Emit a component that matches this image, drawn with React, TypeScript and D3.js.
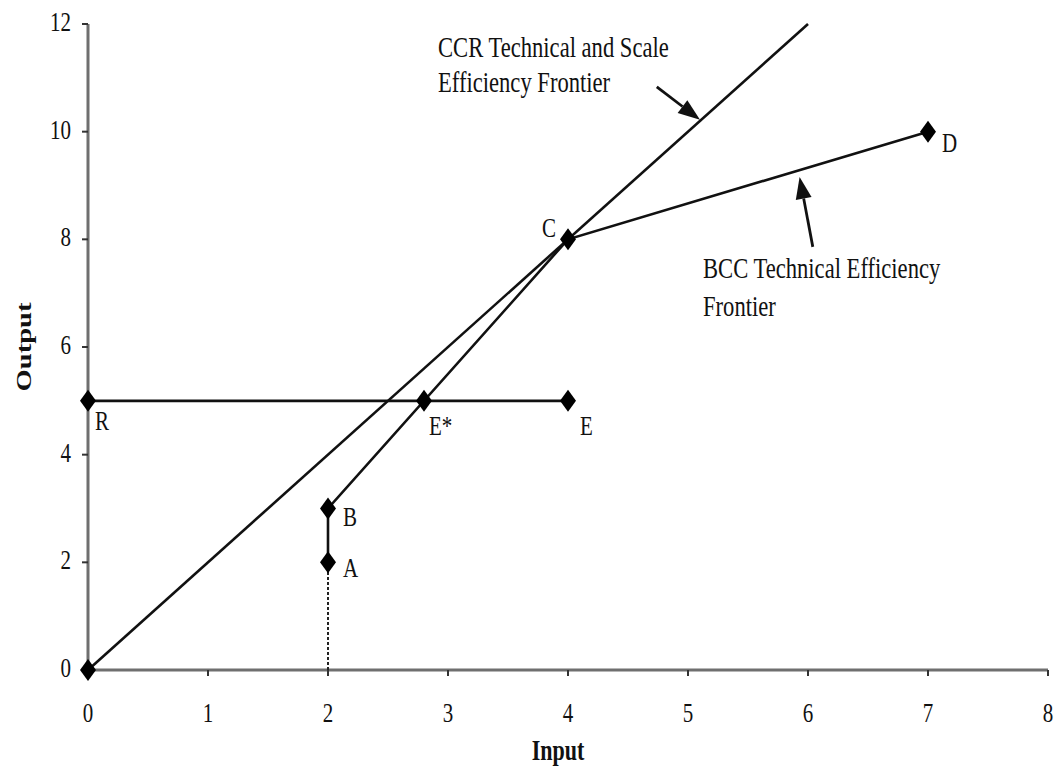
import React, { useEffect, useRef } from "react";
import * as d3 from "d3";

const WIDTH = 1057;
const HEIGHT = 771;
const MARGIN = { top: 24, right: 9, bottom: 101, left: 88 };
const FONT = "'Liberation Serif', 'Times New Roman', serif";
const STRETCH = 1.3; // the source picture is stretched vertically

// Data (input, output)
const xTicks = [0, 1, 2, 3, 4, 5, 6, 7, 8];
const yTicks = [0, 2, 4, 6, 8, 10, 12];

const pointNames = ["O", "R", "A", "B", "E*", "E", "C", "D"];
const pointInput = [0, 0, 2, 2, 2.8, 4, 4, 7];
const pointOutput = [0, 5, 2, 3, 5, 5, 8, 10];

// CCR frontier: ray from origin through C up to the top of the chart
const ccrInput = [0, 6];
const ccrOutput = [0, 12];

// BCC frontier passes A -> B -> C -> D
const bccPath = ["A", "B", "C", "D"];
// horizontal reference R -> E* -> E
const refPath = ["R", "E"];

const ccrLabel = ["CCR Technical and Scale", "Efficiency Frontier"];
const bccLabel = ["BCC Technical Efficiency", "Frontier"];

export default function App() {
  const svgRef = useRef<SVGSVGElement>(null);

  useEffect(() => {
    const svg = d3.select(svgRef.current);
    svg.selectAll("*").remove();

    const x = d3
      .scaleLinear()
      .domain([0, 8])
      .range([MARGIN.left, WIDTH - MARGIN.right]);
    const y = d3
      .scaleLinear()
      .domain([0, 12])
      .range([HEIGHT - MARGIN.bottom, MARGIN.top]);

    const pts = pointNames.map((n, i) => ({ name: n, x: pointInput[i], y: pointOutput[i] }));
    const byName = (n: string) => pts.find((p) => p.name === n)!;

    const text = (
      px: number,
      py: number,
      str: string,
      opts: { size?: number; anchor?: string; weight?: string; rotate?: boolean } = {}
    ) => {
      const t = svg
        .append("text")
        .attr(
          "transform",
          opts.rotate
            ? `translate(${px},${py}) rotate(-90) scale(${STRETCH},1)`
            : `translate(${px},${py}) scale(1,${STRETCH})`
        )
        .attr("font-family", FONT)
        .attr("font-size", opts.size || 22)
        .attr("font-weight", opts.weight || "normal")
        .attr("text-anchor", opts.anchor || "start")
        .attr("fill", "#111")
        .text(str);
      return t;
    };

    // Axes
    const axisColor = "#6f6f6f";
    svg
      .append("line")
      .attr("x1", x(0))
      .attr("x2", x(0))
      .attr("y1", y(12))
      .attr("y2", y(0))
      .attr("stroke", axisColor)
      .attr("stroke-width", 3);
    svg
      .append("line")
      .attr("x1", x(0))
      .attr("x2", x(8))
      .attr("y1", y(0))
      .attr("y2", y(0))
      .attr("stroke", axisColor)
      .attr("stroke-width", 3);

    yTicks.forEach((v) => {
      svg
        .append("line")
        .attr("x1", x(0) - 6)
        .attr("x2", x(0))
        .attr("y1", y(v))
        .attr("y2", y(v))
        .attr("stroke", "#333")
        .attr("stroke-width", 2);
      text(x(0) - 17, y(v) + 7, String(v), { size: 21, anchor: "end" });
    });
    xTicks.forEach((v) => {
      svg
        .append("line")
        .attr("x1", x(v))
        .attr("x2", x(v))
        .attr("y1", y(0))
        .attr("y2", y(0) + 6)
        .attr("stroke", "#333")
        .attr("stroke-width", 2);
      text(x(v), y(0) + 52, String(v), { size: 21, anchor: "middle" });
    });

    text(558, 760, "Input", { size: 22, anchor: "middle", weight: "bold" });
    text(31, 347, "Output", { size: 22, anchor: "middle", weight: "bold", rotate: true });

    const line = d3
      .line<{ x: number; y: number }>()
      .x((d) => x(d.x))
      .y((d) => y(d.y));

    // dotted drop from A to the input axis
    const a = byName("A");
    svg
      .append("path")
      .datum([{ x: a.x, y: 0 }, a])
      .attr("d", line)
      .attr("fill", "none")
      .attr("stroke", "#222")
      .attr("stroke-width", 2)
      .attr("stroke-dasharray", "3,2");

    // CCR frontier
    svg
      .append("path")
      .datum(ccrInput.map((v, i) => ({ x: v, y: ccrOutput[i] })))
      .attr("d", line)
      .attr("fill", "none")
      .attr("stroke", "#111")
      .attr("stroke-width", 2.6);

    // BCC frontier
    svg
      .append("path")
      .datum(bccPath.map(byName))
      .attr("d", line)
      .attr("fill", "none")
      .attr("stroke", "#111")
      .attr("stroke-width", 2.6);

    // R - E line
    svg
      .append("path")
      .datum(refPath.map(byName))
      .attr("d", line)
      .attr("fill", "none")
      .attr("stroke", "#111")
      .attr("stroke-width", 2.6);

    // arrows (in data units)
    const arrow = (x1: number, y1: number, x2: number, y2: number) => {
      const X1 = x(x1), Y1 = y(y1), X2 = x(x2), Y2 = y(y2);
      const ang = Math.atan2(Y2 - Y1, X2 - X1);
      const len = 22, half = 8;
      const bx = X2 - len * Math.cos(ang), by = Y2 - len * Math.sin(ang);
      svg
        .append("line")
        .attr("x1", X1)
        .attr("y1", Y1)
        .attr("x2", bx)
        .attr("y2", by)
        .attr("stroke", "#111")
        .attr("stroke-width", 2.8);
      const px = -Math.sin(ang), py = Math.cos(ang);
      svg
        .append("path")
        .attr(
          "d",
          `M${X2},${Y2}L${bx + half * px},${by + half * py}L${bx - half * px},${by - half * py}Z`
        )
        .attr("fill", "#111");
    };
    arrow(4.74, 10.83, 5.1, 10.22);
    arrow(6.04, 7.86, 5.93, 9.16);

    // markers
    svg
      .selectAll("path.pt")
      .data(pts)
      .join("path")
      .attr("class", "pt")
      .attr("transform", (d) => `translate(${x(d.x)},${y(d.y)})`)
      .attr("d", "M0,-11L8,0L0,11L-8,0Z")
      .attr("fill", "#000");

    // point labels
    const labelOffset: Record<string, [number, number, string]> = {
      R: [7, 29, "start"],
      A: [15, 15, "start"],
      B: [15, 17, "start"],
      "E*": [5, 34, "start"],
      E: [12, 34, "start"],
      C: [-12, -2, "end"],
      D: [14, 20, "start"],
    };
    pts.forEach((p) => {
      const o = labelOffset[p.name];
      if (!o) return;
      text(x(p.x) + o[0], y(p.y) + o[1], p.name, { size: 21, anchor: o[2] });
    });

    // frontier captions
    ccrLabel.forEach((s, i) => text(438, 57 + i * 35, s, { size: 22.6 }));
    bccLabel.forEach((s, i) => text(703, 278 + i * 38, s, { size: 22.6 }));
  }, []);

  return (
    <svg
      ref={svgRef}
      width={WIDTH}
      height={HEIGHT}
      style={{ position: "absolute", left: 0, top: 0, background: "#fff" }}
    />
  );
}
